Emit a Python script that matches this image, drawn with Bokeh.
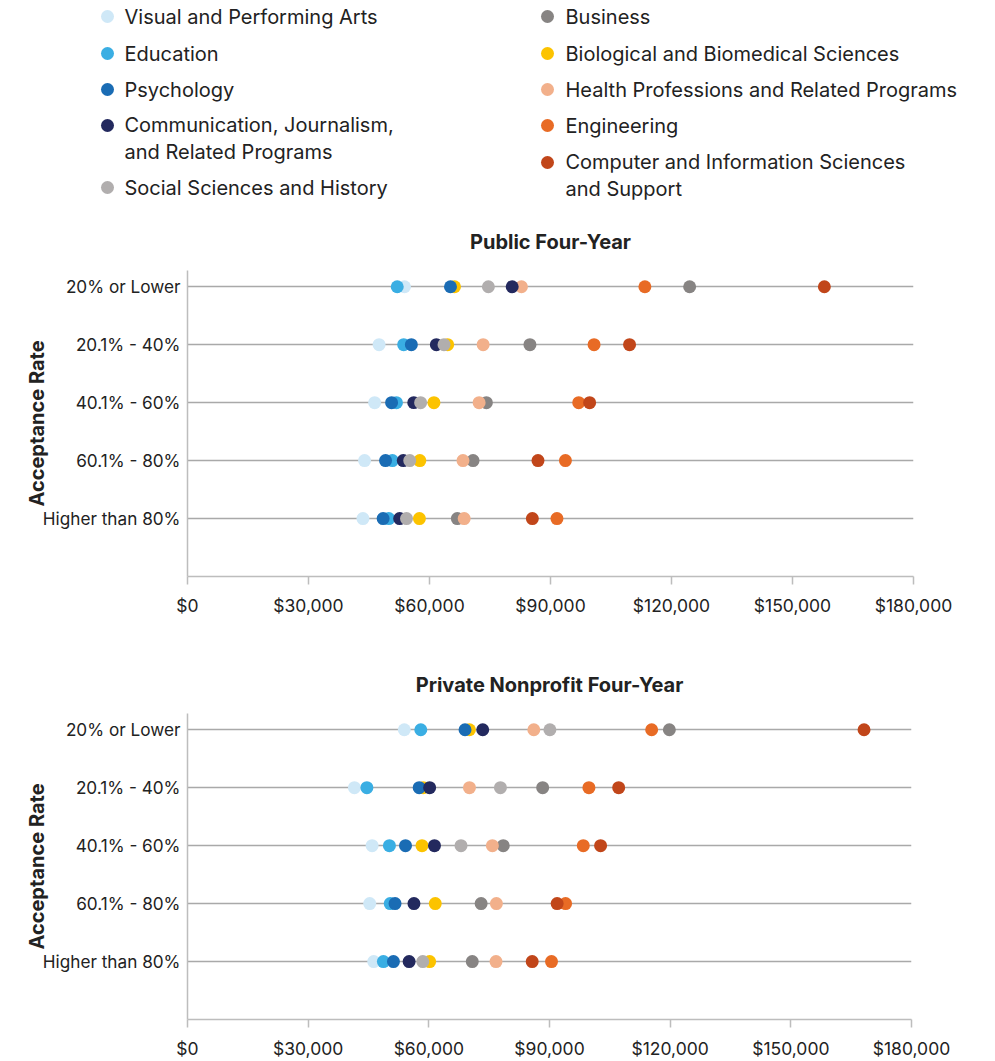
from bokeh.plotting import figure
from bokeh.models import ColumnDataSource, FixedTicker, NumeralTickFormatter, Range1d
from bokeh.layouts import column
from bokeh.embed import file_html
from bokeh.resources import INLINE
from bokeh.core.properties import value

# ---------------- data ----------------
categories = [
    "Visual and Performing Arts",
    "Education",
    "Psychology",
    "Communication, Journalism,\nand Related Programs",
    "Social Sciences and History",
    "Business",
    "Biological and Biomedical Sciences",
    "Health Professions and Related Programs",
    "Engineering",
    "Computer and Information Sciences\nand Support",
]
colors = ["#cfe8f7", "#3aaee3", "#1a6cb4", "#23295e", "#b1aeae",
          "#878483", "#fcc300", "#f2b08b", "#e86b25", "#c1461a"]
rates = ["20% or Lower", "20.1% - 40%", "40.1% - 60%", "60.1% - 80%", "Higher than 80%"]
panel_titles = ["Public Four-Year", "Private Nonprofit Four-Year"]
x_ticks = [0, 30000, 60000, 90000, 120000, 150000, 180000]

# median salaries (USD), one value per acceptance-rate band, in the order of `rates`
public_visual = [53800, 47500, 46400, 43900, 43500]
public_education = [52000, 53600, 51800, 50800, 49900]
public_psychology = [65200, 55500, 50600, 49100, 48500]
public_communication = [80500, 61700, 56100, 53500, 52600]
public_social = [74600, 63600, 57800, 55100, 54300]
public_business = [124500, 84900, 74100, 70800, 66900]
public_biology = [66200, 64500, 61100, 57600, 57500]
public_health = [82800, 73300, 72300, 68300, 68600]
public_engineering = [113400, 100800, 97000, 93700, 91600]
public_computer = [157900, 109600, 99700, 86900, 85500]

private_visual = [53900, 41500, 45900, 45300, 46300]
private_education = [58000, 44600, 50200, 50400, 48700]
private_psychology = [69000, 57600, 54200, 51600, 51200]
private_communication = [73400, 60200, 61400, 56300, 55100]
private_social = [90100, 77800, 68000, None, 58500]   # not visible for 60.1% - 80%
private_business = [119800, 88300, 78500, 73000, 70800]
private_biology = [70100, 58600, 58300, 61600, 60200]
private_health = [86100, 70100, 75800, 76800, 76700]
private_engineering = [115400, 99800, 98400, 94000, 90500]
private_computer = [168200, 107200, 102700, 91900, 85700]

public_series = [public_visual, public_education, public_psychology, public_communication,
                 public_social, public_business, public_biology, public_health,
                 public_engineering, public_computer]
private_series = [private_visual, private_education, private_psychology, private_communication,
                  private_social, private_business, private_biology, private_health,
                  private_engineering, private_computer]

# ---------------- style ----------------
FONT = "Inter"
TEXT_COLOR = "#222222"
GRID_COLOR = "#a9a9a9"
AXIS_COLOR = "#bdbdbd"
DOT_SIZE = 13
# drawing order (later is on top)
draw_order = [0, 5, 1, 6, 2, 7, 3, 8, 4, 9]

# ---------------- legend ----------------
LEG_W, LEG_H = 985, 210
leg = figure(width=LEG_W, height=LEG_H, x_range=Range1d(0, LEG_W), y_range=Range1d(LEG_H, 0),
             output_backend="svg", toolbar_location=None, min_border=0)
leg.axis.visible = False
leg.grid.visible = False
leg.outline_line_color = None
leg.background_fill_color = None
leg.border_fill_color = None

col_marker_x = [107, 547]
col_text_x = [124, 565]
row_y = [[16, 53, 89, 125, 187], [16, 53, 89, 125, 162]]
LINE_STEP = 26

mx, my, tx, ty, lbl, lc = [], [], [], [], [], []
for i, cat in enumerate(categories):
    c, r = divmod(i, 5)
    y = row_y[c][r]
    mx.append(col_marker_x[c])
    my.append(y)
    lc.append(colors[i])
    lbl.append(cat)
    tx.append(col_text_x[c])
    nlines = cat.count("\n") + 1
    ty.append(y + (nlines - 1) * LINE_STEP / 2)

leg.scatter(x=mx, y=my, size=DOT_SIZE, color=lc, line_color=None)
leg.text(x=tx, y=ty, text=lbl, text_font=value(FONT), text_font_size="20px",
         text_baseline="middle", text_align="left", text_color=TEXT_COLOR,
         text_line_height=1.13)


# ---------------- panels ----------------
def make_panel(title, series, frame_width, border_bottom):
    n = len(rates)
    p = figure(frame_width=frame_width, frame_height=306,
               x_range=Range1d(0, 180000), y_range=Range1d(0, 5.28),
               output_backend="svg", toolbar_location=None,
               min_border_left=187, min_border_right=985 - 187 - frame_width,
               min_border_top=57, min_border_bottom=border_bottom,
               title=title)
    p.title.align = "center"
    p.title.text_font = FONT
    p.title.text_font_size = "20px"
    p.title.text_font_style = "bold"
    p.title.text_color = TEXT_COLOR
    p.title.standoff = 34

    p.outline_line_color = None
    p.xgrid.visible = False
    ypos = [n - i for i in range(n)]
    p.yaxis.ticker = FixedTicker(ticks=ypos)
    p.yaxis.major_label_overrides = {n - i: rates[i] for i in range(n)}
    p.ygrid.ticker = FixedTicker(ticks=ypos)
    p.ygrid.grid_line_color = GRID_COLOR
    p.ygrid.grid_line_width = 1.6

    p.yaxis.axis_label = "Acceptance Rate"
    p.yaxis.axis_label_text_font = FONT
    p.yaxis.axis_label_text_font_size = "20px"
    p.yaxis.axis_label_text_font_style = "bold"
    p.yaxis.axis_label_text_color = TEXT_COLOR
    p.yaxis.axis_label_standoff = -9
    p.yaxis.major_tick_out = 0
    p.yaxis.major_tick_in = 0
    p.yaxis.minor_tick_line_color = None
    p.yaxis.major_label_standoff = 7

    p.xaxis.ticker = FixedTicker(ticks=x_ticks)
    p.xaxis.formatter = NumeralTickFormatter(format="$0,0")
    p.xaxis.major_tick_out = 8
    p.xaxis.major_tick_in = 0
    p.xaxis.minor_tick_line_color = None
    p.xaxis.major_label_standoff = 10

    for ax in (p.xaxis, p.yaxis):
        ax.axis_line_color = AXIS_COLOR
        ax.axis_line_width = 1.5
        ax.major_tick_line_width = 1.5
        ax.major_label_text_font = FONT
        ax.major_label_text_color = TEXT_COLOR
    p.xaxis.major_tick_line_color = AXIS_COLOR
    p.yaxis.major_tick_line_color = None
    p.xaxis.major_label_text_font_size = "17.5px"
    p.yaxis.major_label_text_font_size = "17.2px"

    for k in draw_order:
        xs = [float("nan") if v is None else v for v in series[k]]
        src = ColumnDataSource(dict(x=xs, y=ypos))
        p.scatter(x="x", y="y", source=src, size=DOT_SIZE, color=colors[k], line_color=None)
    return p


top = make_panel(panel_titles[0], public_series, 726, 77)
bottom = make_panel(panel_titles[1], private_series, 724, 42)

panels = column(top, bottom, spacing=0)
open("out.html", "w").write(file_html([leg, panels], INLINE))
